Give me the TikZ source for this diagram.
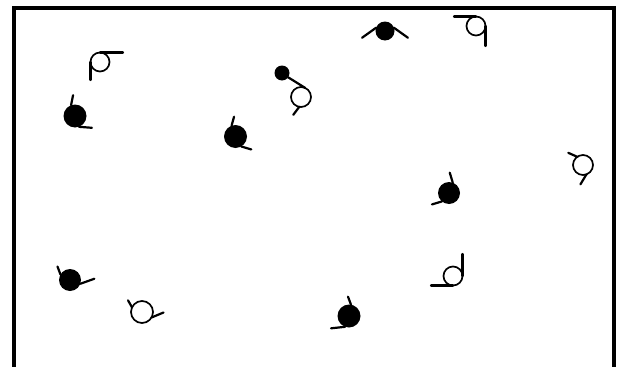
\documentclass[tikz,border=0pt]{standalone}
\usetikzlibrary{positioning}

\begin{document}
\begin{tikzpicture}[x=1pt,y=-1pt,line width=2pt,
   dot/.style={circle,fill=black,inner sep=0pt,outer sep=0pt,minimum size=23pt},
   ring/.style={circle,draw,line width=1.7pt,inner sep=0pt,outer sep=0pt,minimum size=19pt},
   arm/.style={line width=2.2pt,line cap=round}]
  \useasboundingbox (0,0) rectangle (622,367);
  \draw[line width=4pt] (14,370) -- (14,7.5) -- (613.5,7.5) -- (613.5,370);
  % open ones
  \node[ring] (r1) at (100,62) {};
  \node[ring] (r2) at (476,26) {};
  \node[ring,minimum size=20pt] (r3) at (301,97) {};
  \node[ring,minimum size=20pt] (r4) at (583,165) {};
  \node[ring] (r5) at (453,276) {};
  \node[ring,minimum size=22pt] (r6) at (142,312) {};
  % filled ones
  \node[dot] (d1) at (75,116) {};
  \node[dot,minimum size=15pt] (d2) at (282,73) {};
  \node[dot] (d3) at (235.5,136.5) {};
  \node[dot,minimum size=19pt] (d4) at (385,31) {};
  \node[dot,minimum size=22pt] (d5) at (449,193) {};
  \node[dot,minimum size=22pt] (d6) at (70,280) {};
  \node[dot] (d7) at (349,316) {};
  % arms
  \draw[arm] (r1.north) -- ++(23,0);
  \draw[arm] (r1.west) -- ++(0,18);
  \draw[arm] (r2.north) -- ++(-22,0);
  \draw[arm] (r2.east) -- ++(0,20);
  \draw[arm] (d2.-35) -- (r3.65);
  \draw[arm] (r3.260) -- ++(-6,8);
  \draw[arm] (r4.125) -- ++(-9,-4);
  \draw[arm] (r4.290) -- ++(-6,10);
  \draw[arm] (r5.east) -- ++(0,-22);
  \draw[arm] (r5.south) -- ++(-22,0);
  \draw[arm] (r6.155) -- ++(-4,-7);
  \draw[arm] (r6.-30) -- ++(12,-5);
  \draw[arm] (d1.110) -- ++(2,-10);
  \draw[arm] (d1.290) -- ++(13,1);
  \draw[arm] (d3.110) -- ++(2.5,-9);
  \draw[arm] (d3.300) -- ++(10,3);
  \draw[arm] (d4.160) -- ++(-14,10);
  \draw[arm] (d4.20) -- ++(14,10);
  \draw[arm] (d5.70) -- ++(-3,-10);
  \draw[arm] (d5.230) -- ++(-10,3);
  \draw[arm] (d6.150) -- ++(-3,-8);
  \draw[arm] (d6.-20) -- ++(14,-5);
  \draw[arm] (d7.80) -- ++(-3,-8);
  \draw[arm] (d7.250) -- ++(-14,1.5);
\end{tikzpicture}
\end{document}
